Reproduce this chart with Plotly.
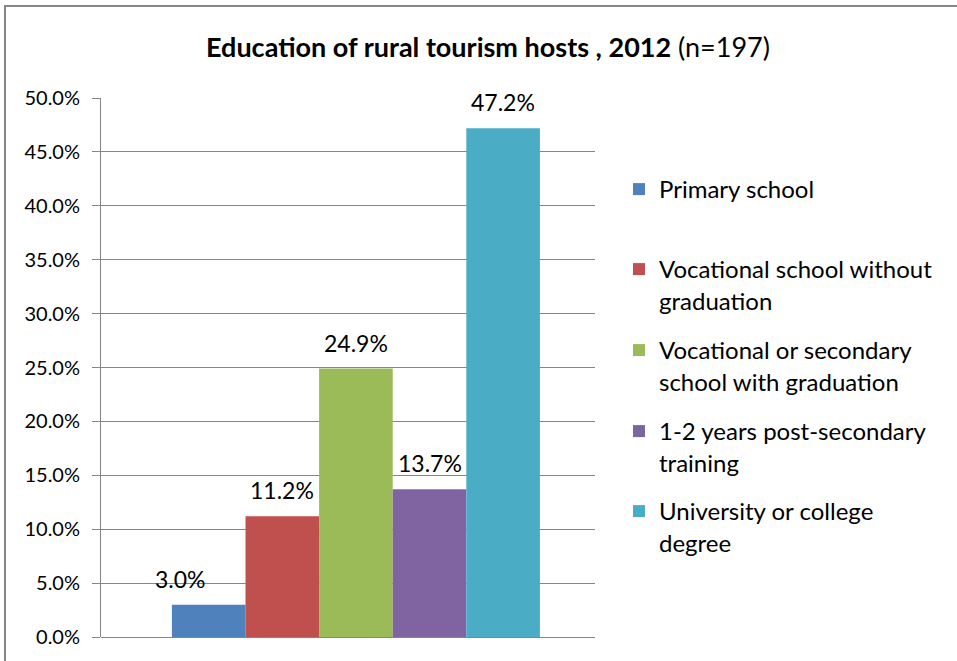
import plotly.graph_objects as go

# Education level of rural tourism hosts, 2012 (share of respondents, %)
categories = [
    "Primary school",
    "Vocational school without<br>graduation",
    "Vocational or secondary<br>school with graduation",
    "1-2 years post-secondary<br>training",
    "University or college<br>degree",
]
shares = [3.0, 11.2, 24.9, 13.7, 47.2]
colors = ["#4F81BD", "#C0504D", "#9BBB59", "#8064A2", "#4BACC6"]
y_ticks = [0, 5, 10, 15, 20, 25, 30, 35, 40, 45, 50]
y_tick_text = [f"{v:.1f}%" for v in y_ticks]

FONT = "Lato"
W, H = 957, 661
L, R, T, B = 101, 362, 98, 24
plot_w = W - L - R
plot_h = H - T - B

bargap = 0.255
bar_w = (1 - bargap) / len(shares)
x_center = 0.0
x_range = [-0.516, 0.484]

fig = go.Figure()
for i, (name, val, col) in enumerate(zip(categories, shares, colors)):
    fig.add_trace(go.Bar(
        x=[x_center], y=[val], name=name, marker=dict(color=col, line=dict(width=0)),
        legend="legend" if i == 0 else f"legend{i + 1}",
        hoverinfo="skip",
    ))

# value labels above each bar
label_xshift = [-28, 0, 0, 0, 0]
for i, val in enumerate(shares):
    cx = x_center + (i - (len(shares) - 1) / 2) * bar_w
    fig.add_annotation(
        x=cx, y=val, xref="x", yref="y", text=f"{val:.1f}%", showarrow=False,
        yanchor="middle", yshift=26, xshift=label_xshift[i],
        font=dict(family=FONT, size=23, color="#000000"),
    )

# one legend block per series, stacked on the right
legend_rows = [190, 270, 351, 432, 512]
legend_px_x = 619
layout_legends = {}
for i, row in enumerate(legend_rows):
    key = "legend" if i == 0 else f"legend{i + 1}"
    layout_legends[key] = dict(
        x=(legend_px_x - L) / plot_w,
        y=(H - B - (row - 23)) / plot_h,
        xanchor="left", yanchor="top", valign="top",
        bgcolor="rgba(0,0,0,0)", borderwidth=0,
        font=dict(family=FONT, size=24, color="#000000"),
    )

fig.update_layout(
    width=W, height=H,
    margin=dict(l=L, r=R, t=T, b=B, pad=0),
    paper_bgcolor="#FFFFFF", plot_bgcolor="#FFFFFF",
    barmode="group", bargap=bargap, bargroupgap=0,
    showlegend=True,
    title=dict(
        text="<b>Education of rural tourism hosts , 2012</b> (n=197)",
        x=(488 - 0) / W, xanchor="center", y=1 - 48 / H, yanchor="middle",
        font=dict(family=FONT, size=27, color="#000000"),
    ),
    xaxis=dict(
        type="linear", range=x_range, showticklabels=False, showgrid=False,
        zeroline=False, showline=False, ticks="",
    ),
    yaxis=dict(
        range=[0, 50], tickvals=y_ticks, ticktext=y_tick_text,
        showgrid=True, gridcolor="#868686", gridwidth=1,
        zeroline=True, zerolinecolor="#868686", zerolinewidth=1,
        showline=True, linecolor="#868686", linewidth=1,
        ticks="outside", ticklen=8, tickcolor="#868686", tickwidth=1,
        tickfont=dict(family=FONT, size=20, color="#000000"),
        ticklabelstandoff=8,
    ),
    **layout_legends,
)

# chart frame (top and left edges)
fig.add_shape(type="line", xref="paper", yref="paper",
              x0=(4 - L) / plot_w, x1=(W + 10 - L) / plot_w,
              y0=(H - B - 6) / plot_h, y1=(H - B - 6) / plot_h,
              line=dict(color="#868686", width=2))
fig.add_shape(type="line", xref="paper", yref="paper",
              x0=(5 - L) / plot_w, x1=(5 - L) / plot_w,
              y0=(H - B - 6) / plot_h, y1=-(B + 10) / plot_h,
              line=dict(color="#868686", width=2))

fig.write_html("out.html")
